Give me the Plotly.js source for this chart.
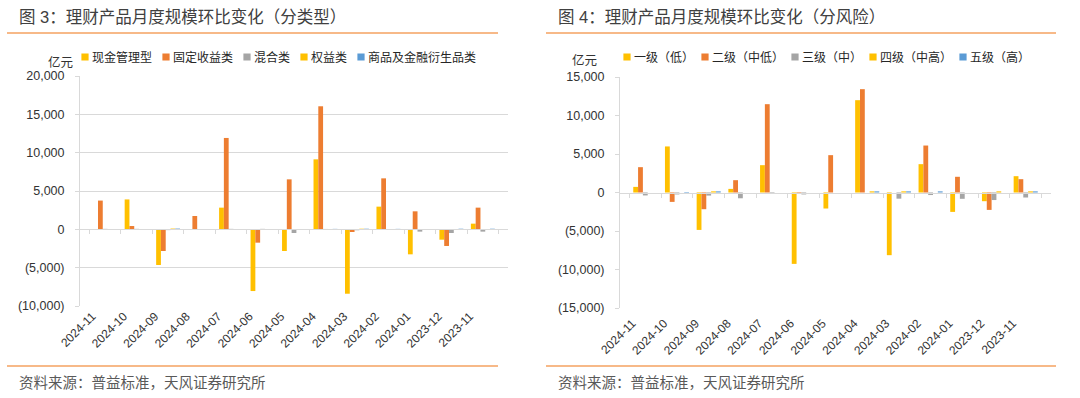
<!DOCTYPE html>
<html>
<head>
<meta charset="utf-8">
<script src="https://cdn.plot.ly/plotly-3.0.1.min.js"></script>
<style>
  html, body { margin: 0; padding: 0; background: #ffffff; }
  #chart { width: 1080px; height: 398px; }
  g.legendpoints path { transform: translate(33px, 0px) scale(0.6); }
</style>
</head>
<body>
<div id="chart"></div>
<script>
// ---------------- data ----------------
const categories = ['2024-11','2024-10','2024-09','2024-08','2024-07','2024-06','2024-05','2024-04','2024-03','2024-02','2024-01','2023-12','2023-11'];

// 图3：分类型 (亿元)
const namesByType = ['现金管理型','固定收益类','混合类','权益类','商品及金融衍生品类'];
const cashMgmt    = [20, 3900, -4650, 30, 2830, -8050, -2830, 9130, -8400, 2960, -3260, -1350, 740];
const fixedIncome = [3750, 430, -2830, 1740, 11920, -1740, 6520, 16050, -350, 6650, 2350, -2170, 2830];
const mixed       = [60, 60, -100, -60, 60, 60, -480, 50, -120, 20, -300, -480, -300];
const equity      = [0, 0, 100, 0, 0, 0, 0, 0, 80, 0, 0, 0, 0];
const commodity   = [0, -80, 100, 0, 0, 0, 0, 60, 80, 60, 0, 80, 80];

// 图4：分风险 (亿元)
const namesByRisk = ['一级（低）','二级（中低）','三级（中）','四级（中高）','五级（高）'];
const risk1 = [730, 5980, -4860, 470, 3550, -9270, -2080, 11990, -8140, 3680, -2520, -1130, 2120];
const risk2 = [3290, -1220, -2170, 1600, 11470, -170, 4850, 13420, 0, 6100, 2040, -2260, 1730];
const risk3 = [-380, -250, -400, -750, -150, -250, 0, 0, -800, -330, -820, -980, -650];
const risk4 = [0, 0, 150, 0, 0, 0, 0, 150, 150, 0, 0, 150, 150];
const risk5 = [0, -150, 150, 0, 0, 0, 0, 150, 150, 150, 0, 0, 150];

const yTickValsLeft  = [-10000, -5000, 0, 5000, 10000, 15000, 20000];
const yTickTextLeft  = ['(10,000)', '(5,000)', '0', '5,000', '10,000', '15,000', '20,000'];
const yTickValsRight = [-15000, -10000, -5000, 0, 5000, 10000, 15000];
const yTickTextRight = ['(15,000)', '(10,000)', '(5,000)', '0', '5,000', '10,000', '15,000'];

const unitLabel = '亿元';
const titleLeft  = '图 3：理财产品月度规模环比变化（分类型）';
const titleRight = '图 4：理财产品月度规模环比变化（分风险）';
const sourceText = '资料来源：普益标准，天风证券研究所';

// ---------------- style ----------------
const palette = ['#FFC000', '#ED7D31', '#A5A5A5', '#FFC000', '#5B9BD5'];
const FONT = "'Liberation Sans', 'Noto Sans CJK SC', Arial, sans-serif";
const W = 1080, H = 398;
const LEG_FONT = 12;
const gridColor = '#D9D9D9';
const accent = '#F4A261';

const px = x => x / W;
const py = y => 1 - y / H;

const leftDomX  = [px(80), px(508)];
const leftDomY  = [py(306), py(76)];
const rightDomX = [px(620), px(1051)];
const rightDomY = [py(308), py(77)];
const leftRange = [-10000, 20000];
const rightRange = [-15000, 15000];

function zeroPos(dom, rng) {
  return dom[0] + (dom[1] - dom[0]) * (0 - rng[0]) / (rng[1] - rng[0]);
}

function makeBars(names, seriesList, xa, ya, legendId, squeeze) {
  return seriesList.map((vals, i) => {
    const tw = names[i].length * LEG_FONT;
    const isLast = i === seriesList.length - 1;
    return {
      type: 'bar',
      name: names[i],
      x: categories,
      y: vals,
      xaxis: xa,
      yaxis: ya,
      legend: legendId,
      legendwidth: isLast ? tw + 4 : Math.max(tw - squeeze, 1),
      marker: { color: palette[i], line: { width: 0 } },
      hoverinfo: 'x+y+name'
    };
  });
}

const traces = [].concat(
  makeBars(namesByType, [cashMgmt, fixedIncome, mixed, equity, commodity], 'x', 'y', 'legend', 24),
  makeBars(namesByRisk, [risk1, risk2, risk3, risk4, risk5], 'x3', 'y3', 'legend2', 27),
  [
    { type: 'scatter', mode: 'markers', x: categories, y: categories.map(() => null), xaxis: 'x2', yaxis: 'y', showlegend: false, hoverinfo: 'skip' },
    { type: 'scatter', mode: 'markers', x: categories, y: categories.map(() => null), xaxis: 'x4', yaxis: 'y3', showlegend: false, hoverinfo: 'skip' }
  ]
);

const tickFontY = { family: FONT, size: 12.5, color: '#333333' };
const tickFontX = { family: FONT, size: 12, color: '#333333' };

function catAxis(domain, anchor, standoff) {
  return {
    domain: domain, anchor: anchor, type: 'category',
    showgrid: false, showline: false, zeroline: false, ticks: '',
    tickangle: -45, tickfont: tickFontX, fixedrange: true,
    ticklabelshift: -13, ticklabelstandoff: standoff
  };
}
function zeroAxis(domain, overlay, pos) {
  return {
    domain: domain, overlaying: overlay, matches: overlay, anchor: 'free', position: pos,
    type: 'category', showgrid: false, zeroline: false, showline: true, linecolor: gridColor, linewidth: 1,
    ticks: 'outside', tickson: 'boundaries', ticklen: 4, tickcolor: gridColor, tickwidth: 1,
    showticklabels: false, fixedrange: true
  };
}

const legendBase = {
  orientation: 'h', xanchor: 'left', yanchor: 'middle',
  font: { family: FONT, size: LEG_FONT, color: '#262626' },
  bgcolor: 'rgba(0,0,0,0)', borderwidth: 0, itemwidth: 30, tracegroupgap: 0,
  itemclick: false, itemdoubleclick: false
};

const layout = {
  width: W, height: H, autosize: false,
  margin: { l: 0, r: 0, t: 0, b: 0, pad: 0 },
  paper_bgcolor: '#ffffff', plot_bgcolor: 'rgba(0,0,0,0)',
  font: { family: FONT, color: '#333333' },
  barmode: 'group', bargap: 0.24, bargroupgap: 0,
  xaxis: catAxis(leftDomX, 'y', 0),
  xaxis2: zeroAxis(leftDomX, 'x', zeroPos(leftDomY, leftRange)),
  yaxis: {
    domain: leftDomY, anchor: 'x', range: leftRange,
    tickvals: yTickValsLeft, ticktext: yTickTextLeft, tickfont: tickFontY,
    showgrid: true, gridcolor: gridColor, gridwidth: 1,
    showline: true, linecolor: gridColor, linewidth: 1,
    ticks: 'outside', ticklen: 4, tickcolor: gridColor,
    zeroline: false, ticklabelstandoff: 8, fixedrange: true
  },
  xaxis3: catAxis(rightDomX, 'y3', 5),
  xaxis4: zeroAxis(rightDomX, 'x3', zeroPos(rightDomY, rightRange)),
  yaxis3: {
    domain: rightDomY, anchor: 'x3', range: rightRange,
    tickvals: yTickValsRight, ticktext: yTickTextRight, tickfont: tickFontY,
    showgrid: false,
    showline: true, linecolor: gridColor, linewidth: 1,
    ticks: 'outside', ticklen: 4, tickcolor: gridColor,
    zeroline: false, ticklabelstandoff: 8, fixedrange: true
  },
  legend:  Object.assign({}, legendBase, { x: px(52), y: py(57) }),
  legend2: Object.assign({}, legendBase, { x: px(594), y: py(57) }),
  annotations: [
    { text: titleLeft,  xref: 'paper', yref: 'paper', x: px(17), y: py(17), xanchor: 'left', yanchor: 'middle', showarrow: false, font: { family: FONT, size: 16.5, color: '#404040' } },
    { text: titleRight, xref: 'paper', yref: 'paper', x: px(556), y: py(17), xanchor: 'left', yanchor: 'middle', showarrow: false, font: { family: FONT, size: 16.5, color: '#404040' } },
    { text: unitLabel, xref: 'paper', yref: 'paper', x: px(60), y: py(62), xanchor: 'center', yanchor: 'middle', showarrow: false, font: { family: FONT, size: 12.5, color: '#333333' } },
    { text: unitLabel, xref: 'paper', yref: 'paper', x: px(584), y: py(61), xanchor: 'center', yanchor: 'middle', showarrow: false, font: { family: FONT, size: 12.5, color: '#333333' } },
    { text: sourceText, xref: 'paper', yref: 'paper', x: px(17), y: py(383), xanchor: 'left', yanchor: 'middle', showarrow: false, font: { family: FONT, size: 14.5, color: '#595959' } },
    { text: sourceText, xref: 'paper', yref: 'paper', x: px(556), y: py(383), xanchor: 'left', yanchor: 'middle', showarrow: false, font: { family: FONT, size: 14.5, color: '#595959' } }
  ],
  shapes: [
    { type: 'line', xref: 'paper', yref: 'paper', x0: px(7),   x1: px(498),  y0: py(33),  y1: py(33),  line: { color: accent, width: 1.5 } },
    { type: 'line', xref: 'paper', yref: 'paper', x0: px(546), x1: px(1056), y0: py(33),  y1: py(33),  line: { color: accent, width: 1.5 } },
    { type: 'line', xref: 'paper', yref: 'paper', x0: px(7),   x1: px(498),  y0: py(366), y1: py(366), line: { color: accent, width: 1.5 } },
    { type: 'line', xref: 'paper', yref: 'paper', x0: px(546), x1: px(1056), y0: py(366), y1: py(366), line: { color: accent, width: 1.5 } }
  ]
};

Plotly.newPlot('chart', traces, layout, { staticPlot: true, displayModeBar: false });
</script>
</body>
</html>
